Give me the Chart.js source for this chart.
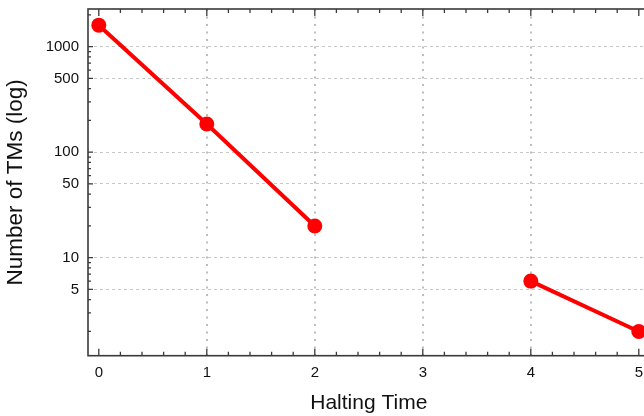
<!DOCTYPE html>
<html>
<head>
<meta charset="utf-8">
<script src="https://cdn.jsdelivr.net/npm/chart.js@4/dist/chart.umd.min.js"></script>
<style>
  html, body { margin: 0; padding: 0; background: #fff; overflow: hidden; }
  #wrap { width: 664px; height: 416px; }
</style>
</head>
<body>
<div id="wrap"><canvas id="haltChart"></canvas></div>
<script>
// halting time vs. number of TMs (log scale); no machines at t = 3
const haltingTimes = [0, 1, 2, 3, 4, 5];
const tmCounts = [1600, 185, 20, null, 6, 2];
const yTickValues = [5, 10, 50, 100, 500, 1000];
const xTickValues = [0, 1, 2, 3, 4, 5];

const frameColor = '#3a3a3a';
const labelFont = { family: 'Liberation Sans, Arial, sans-serif', size: 15 };

// frame around the plot with inward ticks (major + minor)
const framePlugin = {
    id: 'frame',
    afterDatasetsDraw(chart) {
        const { ctx, chartArea: a, scales: { x, y } } = chart;
        ctx.save();
        ctx.strokeStyle = frameColor;
        ctx.lineWidth = 1.6;
        ctx.strokeRect(a.left, a.top, a.right - a.left, a.bottom - a.top);

        ctx.lineWidth = 1.3;
        ctx.beginPath();
        // x ticks every 0.2
        for (let i = 0; i <= 25; i++) {
            const v = i / 5;
            const px = x.getPixelForValue(v);
            const len = i % 5 === 0 ? 7 : 4;
            ctx.moveTo(px, a.bottom); ctx.lineTo(px, a.bottom - len);
            ctx.moveTo(px, a.top); ctx.lineTo(px, a.top + len);
        }
        // log ticks on y
        for (let d = 1; d <= 1000; d *= 10) {
            for (let m = 1; m <= 9; m++) {
                const v = d * m;
                if (v < y.min || v > y.max) continue;
                const py = y.getPixelForValue(v);
                const len = (m === 1 || m === 5) ? 5 : 3;
                ctx.moveTo(a.left, py); ctx.lineTo(a.left + len, py);
                ctx.moveTo(a.right, py); ctx.lineTo(a.right - len, py);
            }
        }
        ctx.stroke();
        ctx.restore();
    }
};

const ctx = document.getElementById('haltChart').getContext('2d');
new Chart(ctx, {
    type: 'line',
    data: {
        datasets: [{
            data: haltingTimes.map((t, i) => ({ x: t, y: tmCounts[i] })),
            borderColor: '#ff0000',
            backgroundColor: '#ff0000',
            borderWidth: 4,
            pointRadius: 7.5,
            pointBorderWidth: 0,
            spanGaps: false,
            tension: 0
        }]
    },
    options: {
        responsive: true,
        maintainAspectRatio: false,
        animation: false,
        layout: { autoPadding: false, padding: { top: 9, right: 14.4, left: 0, bottom: 0 } },
        plugins: {
            legend: { display: false },
            tooltip: { enabled: false }
        },
        scales: {
            x: {
                type: 'linear',
                min: -0.1,
                max: 5.1,
                afterBuildTicks: s => { s.ticks = xTickValues.map(v => ({ value: v })); },
                afterFit: s => { s.height = 60.3; s.paddingLeft = 0; s.paddingRight = 0; },
                grid: {
                    drawTicks: false,
                    lineWidth: 2,
                    color: c => (c.tick && (c.tick.value === 0 || c.tick.value === 5)) ? 'rgba(0,0,0,0)' : '#bdbdbd'
                },
                border: { display: false, dash: [2, 5.5] },
                ticks: { color: '#111', font: labelFont, padding: 8 },
                title: {
                    display: true,
                    text: 'Halting Time',
                    color: '#111',
                    font: { family: 'Liberation Sans, Arial, sans-serif', size: 21 },
                    padding: { top: 0, bottom: 0 }
                }
            },
            y: {
                type: 'logarithmic',
                min: 1.178,
                max: 2277,
                afterBuildTicks: s => { s.ticks = yTickValues.map(v => ({ value: v })); },
                afterFit: s => { s.width = 88; s.paddingTop = 0; s.paddingBottom = 0; },
                grid: { drawTicks: false, lineWidth: 1, color: '#c8c8c8' },
                border: { display: false, dash: [3, 3] },
                ticks: {
                    color: '#111',
                    font: labelFont,
                    padding: 9,
                    callback: v => String(v)
                },
                title: {
                    display: true,
                    text: 'Number of TMs (log)',
                    color: '#111',
                    font: { family: 'Liberation Sans, Arial, sans-serif', size: 22.5 },
                    padding: { top: 2, bottom: 0 }
                }
            }
        }
    },
    plugins: [framePlugin]
});
</script>
</body>
</html>
